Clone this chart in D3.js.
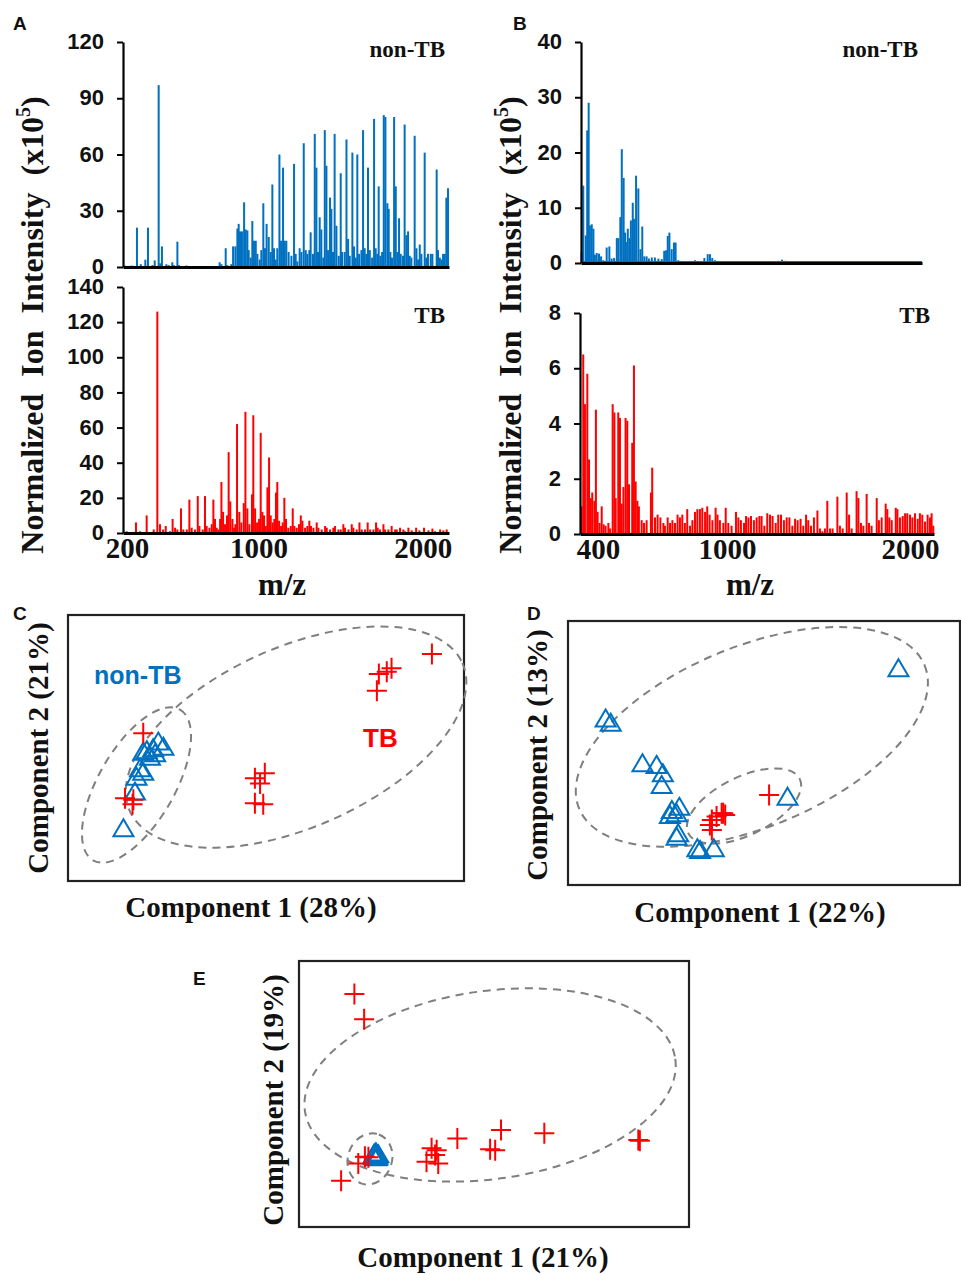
<!DOCTYPE html>
<html>
<head>
<meta charset="utf-8">
<script src="https://cdn.jsdelivr.net/npm/d3@7"></script>
<style>
  body { margin: 0; background: #fff; }
  svg { display: block; }
</style>
</head>
<body>
<svg id="fig" width="961" height="1274"></svg>
<script>
// ---- spectra: [m/z, intensity (x10^5)] ----
const nonTbA = [
  [186,0.8],[206,0.6],[227,0.8],[237,0.6],[261,21],[284,1.5],[312,3.9],[328,21],[355,1],[369,3.5],
  [393,97],[403,2],[413,11],[440,1.5],[454,1],[476,2.5],[486,1],[507,13.5],[517,1],[562,0.8],
  [740,0.5],[764,2.5],[775,1.5],[801,10],[811,1],[835,1.5],[846,11],[860,11],[872,20.5],[880,23],
  [888,19],[900,19],[913,34.5],[923,20],[933,19.5],[941,9],[953,5],[963,24.5],[973,14],[984,14],
  [994,7],[1008,4],[1018,9],[1030,34],[1040,10],[1050,23],[1063,16],[1075,8],[1085,44],[1095,10],
  [1105,4],[1115,10],[1128,60],[1138,14],[1150,53],[1160,14],[1170,14],[1184,8],[1201,6],[1217,55],
  [1227,7],[1237,3],[1251,10],[1262,8],[1276,66],[1288,9],[1298,7],[1310,9],[1318,18.5],[1332,7],
  [1343,71],[1353,53],[1363,8],[1373,26.5],[1383,20],[1395,5],[1404,73],[1414,54],[1424,9],[1436,37],
  [1444,31],[1454,8],[1464,71],[1475,22],[1489,6],[1501,50],[1509,8],[1525,8],[1536,68],[1546,15],
  [1556,6],[1572,61],[1582,11],[1592,5],[1602,60],[1613,7],[1627,9],[1637,73],[1647,10],[1657,7],
  [1667,53],[1678,9],[1692,5],[1704,79],[1714,10],[1724,7],[1732,43],[1742,6],[1753,8],[1763,81],
  [1773,80],[1785,34],[1793,31],[1803,8],[1813,5],[1826,80],[1836,43],[1846,8],[1856,26],[1866,7],
  [1880,6],[1890,76],[1901,17],[1911,19],[1921,6],[1931,5],[1951,70],[1962,10],[1972,4],[1982,12],
  [1992,7],[2012,61],[2022,5],[2032,7],[2049,7],[2059,7],[2085,52],[2093,9],[2104,5],[2114,4],
  [2124,7],[2134,7],[2144,37],[2154,42]
];
const tbA = [
  [198,1],[255,6],[280,1],[320,10],[363,2],[385,126],[401,5],[420,2],[436,4],[462,1],
  [478,8],[493,3],[507,2],[529,14],[543,2],[564,2],[580,19],[594,3],[614,2],[631,21],
  [641,4],[661,2],[675,21],[685,4],[702,3],[716,5],[726,19],[736,8],[746,3],[756,2],
  [767,8],[775,29],[785,12],[797,5],[809,10],[819,46],[829,18],[842,8],[852,3],[860,5],
  [870,62],[884,12],[896,6],[911,17],[921,69],[933,14],[945,5],[961,22],[969,67],[980,14],
  [992,6],[1004,8],[1014,57],[1024,12],[1034,10],[1045,4],[1055,26],[1065,43],[1075,10],[1087,6],
  [1097,8],[1107,23],[1115,29],[1126,7],[1138,4],[1148,6],[1158,20],[1168,8],[1182,3],[1197,4],
  [1209,14],[1219,4],[1233,3],[1247,5],[1258,10],[1268,7],[1284,3],[1298,4],[1310,7],[1320,4],
  [1335,3],[1355,6],[1365,3],[1385,2],[1406,4],[1416,3],[1436,2],[1456,3],[1466,4],[1487,2],
  [1501,2],[1517,5],[1527,3],[1548,2],[1568,5],[1578,3],[1598,2],[1615,6],[1629,2],[1649,2],
  [1665,6],[1680,2],[1700,2],[1716,6],[1726,3],[1740,2],[1761,5],[1771,2],[1791,2],[1811,4],
  [1832,2],[1842,2],[1862,3],[1882,2],[1893,1],[1913,3],[1933,1.5],[1960,3],[1980,1.5],[2008,3],
  [2035,1.5],[2059,2.5],[2075,1],[2106,2],[2126,1.5],[2146,2]
];
const nonTbB = [
  [319,2],[327,14],[339,5],[346,24],[353,29],[359,6.8],[368,7],[376,6.2],[383,1.5],[392,1.8],
  [403,1.7],[413,1.2],[424,0.5],[440,2.8],[453,3],[464,0.8],[476,0.9],[489,4.5],[496,4.5],[506,8.3],
  [513,20.6],[522,15.4],[529,5.5],[533,3.8],[542,6.2],[550,4.5],[557,7.7],[566,10.9],[573,8],[582,15.8],
  [593,13.5],[603,2.5],[612,6.6],[622,1.2],[633,1.2],[644,0.8],[658,1],[673,1],[690,0.8],[706,0.7],
  [718,2.2],[727,2.3],[735,4.9],[743,5.5],[754,2.5],[765,3.7],[773,3.7],[786,0.5],[803,0.3],[843,0.3],
  [867,0.5],[883,0.3],[912,0.9],[928,1.6],[939,1.6],[950,0.9],[963,0.5],[996,0.2],[1318,0.4],[1337,0.6],
  [1356,0.4],[1462,0.3]
];
const nonTbBFloor = 0.2;
const tbB = [
  [321,0.7],[324,1],[331,6.5],[339,4.7],[350,5.8],[358,2.7],[366,1.3],[373,1.5],[383,1.2],[390,4.5],
  [398,0.8],[407,0.4],[417,1],[426,0.35],[435,0.3],[448,0.4],[456,0.2],[468,4.7],[476,4.4],[482,1.3],
  [494,4.4],[502,4.2],[510,1.1],[518,1.7],[528,4.2],[536,4.1],[544,1.8],[559,3.3],[567,6.1],[575,1.9],
  [583,1.2],[590,1],[603,0.5],[614,0.4],[626,0.5],[646,1.5],[652,2.4],[665,0.6],[677,0.7],[690,0.6],
  [704,0.4],[711,0.3],[724,0.6],[735,0.4],[746,0.5],[758,0.4],[770,0.7],[781,0.6],[792,0.7],[804,0.4],
  [815,0.9],[828,0.3],[839,0.5],[851,0.8],[862,0.9],[874,0.9],[885,0.95],[898,0.8],[908,1],[919,0.7],
  [932,0.5],[947,0.95],[956,0.7],[967,0.5],[983,0.4],[994,0.95],[1007,0.4],[1025,0.3],[1049,0.8],[1062,0.6],
  [1076,0.5],[1093,0.4],[1104,0.65],[1117,0.6],[1131,0.65],[1147,0.5],[1162,0.6],[1177,0.65],[1189,0.65],[1204,0.3],
  [1220,0.75],[1235,0.7],[1249,0.65],[1266,0.4],[1280,0.7],[1295,0.7],[1311,0.5],[1326,0.6],[1341,0.6],[1357,0.3],
  [1372,0.55],[1386,0.5],[1402,0.55],[1417,0.3],[1432,0.7],[1444,0.5],[1459,0.3],[1475,0.6],[1494,0.85],[1508,0.2],
  [1521,0.1],[1535,0.2],[1548,1.2],[1563,0.2],[1577,0.2],[1603,1.35],[1617,0.3],[1632,0.2],[1654,1.5],[1667,0.7],
  [1681,0.2],[1708,1.55],[1718,1.3],[1732,0.4],[1745,0.3],[1763,1.45],[1776,0.4],[1790,0.3],[1818,1.3],[1830,0.5],
  [1845,0.6],[1867,1.1],[1876,0.9],[1887,0.6],[1900,0.5],[1922,0.95],[1931,0.9],[1945,0.6],[1960,0.65],[1973,0.75],
  [1985,0.75],[2000,0.7],[2013,0.6],[2027,0.75],[2042,0.55],[2054,0.75],[2067,0.7],[2082,0.45],[2096,0.7],[2109,0.6],
  [2118,0.75],[2127,0.3]
];
const ticksATop = [0, 30, 60, 90, 120];
const ticksABot = [0, 20, 40, 60, 80, 100, 120, 140];
const ticksBTop = [0, 10, 20, 30, 40];
const ticksBBot = [0, 2, 4, 6, 8];
const mzTicksA = [200, 1000, 2000];
const mzTicksB = [400, 1000, 2000];

// ---- PCA score plots (arbitrary score units, 0-100) ----
const crossesC = [[91.9,85.3],[78.5,77.8],[80.5,78.7],[81.7,80.0],[78.0,71.5],[19.0,55.5],[14.4,31.1],
  [16.5,30.5],[16.3,28.9],[47.2,38.6],[49.7,40.5],[48.5,36.7],[47.2,29.2],[49.3,28.9]];
const trianglesC = [[22.8,52.4],[24.1,50.5],[21.5,49.9],[19.9,49.2],[22.0,48.0],[19.0,48.6],[20.7,46.7],
  [18.2,42.4],[19.0,41.1],[17.3,39.2],[16.9,33.6],[14.0,19.8]];
const crossesD = [[51.3,34.1],[39.2,27.2],[40.1,26.5],[37.9,25.9],[36.7,24.6],[36.2,22.7],[36.7,20.8],[39.6,27.2]];
const trianglesD = [[84.3,82.1],[9.6,63.1],[10.9,61.5],[19.0,46.1],[22.6,45.5],[24.2,42.3],[23.9,37.9],
  [26.5,28.4],[28.4,29.6],[26.0,26.5],[27.7,27.2],[28.1,19.6],[27.7,18.3],[33.0,13.9],[33.7,13.3],
  [37.2,13.9],[56.0,33.4]];
const crossesE = [[14.2,87.6],[16.7,78.1],[10.8,17.4],[15.2,23.9],[16.9,26.4],[17.8,26.2],[32.7,24.5],
  [34.0,29.6],[35.3,28.9],[34.9,27.1],[35.7,23.9],[40.6,33.3],[49.0,29.2],[50.3,28.9],[51.8,36.5],
  [62.9,35.2],[87.0,32.7],[87.4,32.4]];
const trianglesE = [[19.2,26.6],[19.5,27.2],[19.8,27.8],[19.6,26.2],[19.3,27.6],[20.1,26.9],
  [19.7,28.0],[19.1,27.0],[20.0,26.3],[20.3,27.4],[19.6,27.0],[19.4,26.8]];

const blue = '#0070C0', red = '#FF0000';
const serif = '"Liberation Serif", "Times New Roman", serif';
const sans = '"Liberation Sans", Arial, sans-serif';

const svg = d3.select('#fig');
svg.append('rect').attr('width', 961).attr('height', 1274).attr('fill', '#fff');

// spectrum panel
function spectrum(x, y, peaks, color, ticks, tag, tagY, xTicks) {
  const g = svg.append('g');
  const x0 = x.range()[0];
  const base = y(0);
  g.selectAll('rect').data(peaks).join('rect')
    .attr('x', d => x(d[0]) - 1)
    .attr('width', 2)
    .attr('y', d => y(d[1]))
    .attr('height', d => base - y(d[1]))
    .attr('fill', color);

  const ya = g.append('g').attr('transform', `translate(${x0},0)`)
    .call(d3.axisLeft(y).tickValues(ticks).tickSize(6).tickSizeOuter(0).tickPadding(13));
  ya.select('.domain').attr('stroke', '#000').attr('stroke-width', 2.2);
  ya.selectAll('.tick line').attr('stroke', '#000').attr('stroke-width', 2);
  ya.selectAll('.tick text').attr('font-family', sans).attr('font-weight', 'bold')
    .attr('font-size', 22).attr('dy', '0.3em').attr('fill', '#111');

  const xa = g.append('g').attr('transform', `translate(0,${base})`)
    .call(d3.axisBottom(x).tickValues(xTicks || []).tickFormat(d3.format('d'))
      .tickSize(0).tickSizeOuter(0).tickPadding(4));
  xa.select('.domain').attr('stroke', '#000').attr('stroke-width', 3);
  xa.selectAll('.tick text').attr('font-family', serif).attr('font-weight', 'bold')
    .attr('font-size', 29).attr('fill', '#111');

  g.append('text').attr('x', x.range()[x.range().length - 1] - 4).attr('y', tagY)
    .attr('text-anchor', 'end').attr('font-family', serif).attr('font-weight', 'bold')
    .attr('font-size', 23).attr('fill', '#111').text(tag);
  return g;
}

// panel A
const xA = d3.scaleLinear().domain([176, 2160]).range([123, 449]);
spectrum(xA, d3.scaleLinear().domain([0, 120]).range([267, 42]), nonTbA, blue, ticksATop, 'non-TB', 57);
spectrum(xA, d3.scaleLinear().domain([0, 140]).range([533, 287]), tbA, red, ticksABot, 'TB', 323, mzTicksA);

// panel B
const xBtop = d3.scaleLinear().domain([316, 1000, 2131]).range([581, 722.6, 922]);
const xBbot = d3.scaleLinear().domain([316, 1000, 2131]).range([580, 727, 934]);
const yBtop = d3.scaleLinear().domain([0, 40]).range([263, 42]);
const gBtop = spectrum(xBtop, yBtop, nonTbB, blue, ticksBTop, 'non-TB', 57);
gBtop.insert('line', 'g')
  .attr('x1', xBtop(316)).attr('x2', xBtop(2131))
  .attr('y1', yBtop(nonTbBFloor)).attr('y2', yBtop(nonTbBFloor))
  .attr('stroke', blue).attr('stroke-width', 2);
spectrum(xBbot, d3.scaleLinear().domain([0, 8]).range([534, 313]), tbB, red, ticksBBot, 'TB', 323, mzTicksB);

// y titles and m/z labels
function yTitle(xb, yc) {
  const t = svg.append('text').attr('transform', `translate(${xb},${yc}) rotate(-90)`)
    .attr('text-anchor', 'middle').attr('font-family', serif).attr('font-weight', 'bold')
    .attr('font-size', 32).attr('word-spacing', 9).attr('fill', '#111');
  t.append('tspan').text('Normalized Ion Intensity (x10');
  t.append('tspan').attr('font-size', 20).attr('dy', -13).text('5');
  t.append('tspan').attr('dy', 13).text(')');
}
yTitle(43, 325);
yTitle(521, 325);

function label(x, y, text, opts = {}) {
  return svg.append('text').attr('x', x).attr('y', y)
    .attr('text-anchor', opts.anchor || 'middle')
    .attr('font-family', opts.font || serif).attr('font-weight', 'bold')
    .attr('font-size', opts.size || 29).attr('fill', opts.color || '#111')
    .attr('transform', opts.rotate ? `rotate(-90,${x},${y})` : null)
    .text(text);
}
label(282, 595, 'm/z', { size: 31 });
label(750, 595, 'm/z', { size: 31 });

// panel letters
[['A', 13, 30], ['B', 513, 30], ['C', 13, 620], ['D', 527, 620], ['E', 193, 985]]
  .forEach(([t, x, y]) => label(x, y, t, { anchor: 'start', font: sans, size: 19 }));

// ---- score plots ----
const crossType = {
  draw(ctx, size) {
    const r = Math.sqrt(size) / 2;
    ctx.moveTo(-r, 0); ctx.lineTo(r, 0);
    ctx.moveTo(0, -r * 1.05); ctx.lineTo(0, r * 1.05);
  }
};
const triType = {
  draw(ctx, size) {
    const r = Math.sqrt(size) / 2;
    ctx.moveTo(0, -0.9 * r); ctx.lineTo(r, 0.8 * r); ctx.lineTo(-r, 0.8 * r); ctx.closePath();
  }
};

function scorePlot(box, tris, crosses, ellipses, xTitle, yTitle) {
  const g = svg.append('g');
  const x = d3.scaleLinear().domain([0, 100]).range([box.x0, box.x1]);
  const y = d3.scaleLinear().domain([0, 100]).range([box.y1, box.y0]);
  g.append('rect').attr('x', box.x0).attr('y', box.y0)
    .attr('width', box.x1 - box.x0).attr('height', box.y1 - box.y0)
    .attr('fill', 'none').attr('stroke', '#222').attr('stroke-width', 2.2);

  g.selectAll('.el').data(ellipses).join('ellipse').attr('class', 'el')
    .attr('transform', d => `translate(${x(d.cx)},${y(d.cy)}) rotate(${d.angle})`)
    .attr('rx', d => d.a).attr('ry', d => d.b)
    .attr('fill', 'none').attr('stroke', '#7f7f7f').attr('stroke-width', 2)
    .attr('stroke-dasharray', '8,6');

  g.selectAll('.tri').data(tris).join('path').attr('class', 'tri')
    .attr('transform', d => `translate(${x(d[0])},${y(d[1])})`)
    .attr('d', d3.symbol(triType, 400))
    .attr('fill', 'none').attr('stroke', blue).attr('stroke-width', 2);
  g.selectAll('.crs').data(crosses).join('path').attr('class', 'crs')
    .attr('transform', d => `translate(${x(d[0])},${y(d[1])})`)
    .attr('d', d3.symbol(crossType, 400))
    .attr('fill', 'none').attr('stroke', red).attr('stroke-width', 2);

  label(xTitle.x, xTitle.y, xTitle.text);
  label(yTitle.x, yTitle.y, yTitle.text, { rotate: true });
  return { g, x, y };
}

scorePlot({ x0: 68, x1: 464, y0: 615, y1: 881 }, trianglesC, crossesC,
  [{ cx: 57.6, cy: 54.1, a: 182, b: 90, angle: -24 }, { cx: 17.3, cy: 36.1, a: 87, b: 38, angle: -60 }],
  { x: 251, y: 917, text: 'Component 1 (28%)' }, { x: 48, y: 748, text: 'Component 2 (21%)' });
label(94, 684, 'non-TB', { anchor: 'start', font: sans, size: 25, color: blue });
label(363, 747, 'TB', { anchor: 'start', font: sans, size: 26, color: red });

scorePlot({ x0: 568, x1: 960, y0: 621, y1: 885 }, trianglesD, crossesD,
  [{ cx: 46.9, cy: 56.1, a: 187, b: 90, angle: -22.6 }, { cx: 44.9, cy: 29.9, a: 62, b: 29, angle: -26 }],
  { x: 760, y: 922, text: 'Component 1 (22%)' }, { x: 547, y: 755, text: 'Component 2 (13%)' });

scorePlot({ x0: 299, x1: 689, y0: 961, y1: 1227 }, trianglesE, crossesE,
  [{ cx: 49.0, cy: 53.4, a: 187, b: 94, angle: -8 }, { cx: 18.2, cy: 25.6, a: 26, b: 22, angle: -70 }],
  { x: 483, y: 1267, text: 'Component 1 (21%)' }, { x: 283, y: 1100, text: 'Component 2 (19%)' });
</script>
</body>
</html>
